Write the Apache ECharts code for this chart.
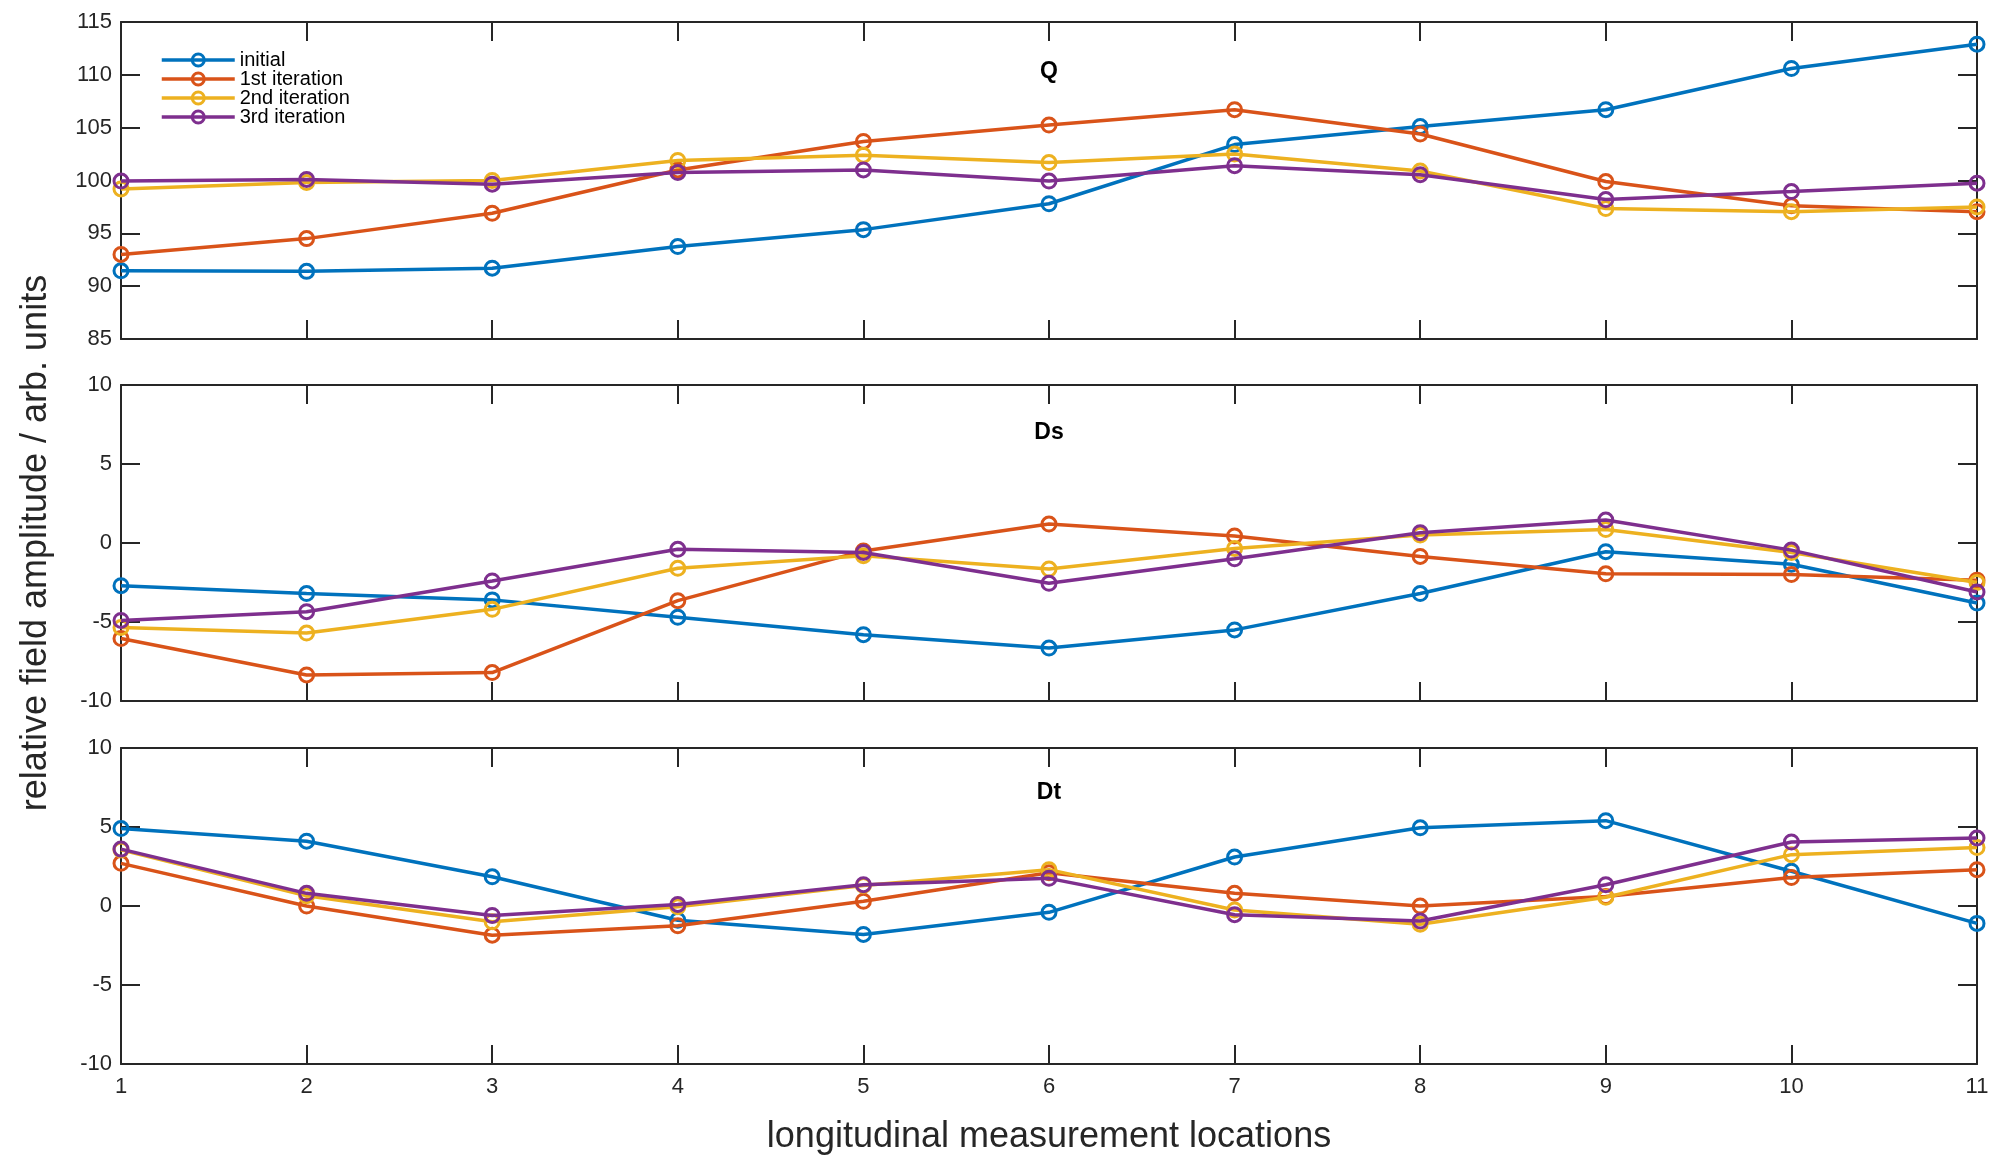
<!DOCTYPE html>
<html>
<head>
<meta charset="utf-8">
<title>Field amplitude iterations</title>
<script src="https://cdn.jsdelivr.net/npm/echarts@6/dist/echarts.min.js"></script>
<style>
  html, body { margin: 0; padding: 0; background: #ffffff; }
  #chart { width: 1997px; height: 1161px; }
</style>
</head>
<body>
<div id="chart"></div>
<script>
// Longitudinal measurement locations (shared x values)
const locations = [1, 2, 3, 4, 5, 6, 7, 8, 9, 10, 11];

// Series names
const seriesNames = ['initial', '1st iteration', '2nd iteration', '3rd iteration'];

// Panel titles
const panelTitles = ['Q', 'Ds', 'Dt'];

// Q component
const qInitial = [91.45, 91.4, 91.7, 93.75, 95.35, 97.8, 103.4, 105.1, 106.7, 110.6, 112.9];
const qIter1   = [93.0, 94.5, 96.9, 101.0, 103.7, 105.25, 106.7, 104.4, 99.9, 97.6, 97.05];
const qIter2   = [99.2, 99.8, 100.0, 101.9, 102.4, 101.7, 102.5, 100.9, 97.35, 97.05, 97.5];
const qIter3   = [99.95, 100.1, 99.65, 100.75, 101.0, 99.95, 101.4, 100.55, 98.2, 98.95, 99.75];

// Ds component
const dsInitial = [-2.7, -3.2, -3.6, -4.7, -5.8, -6.65, -5.5, -3.2, -0.55, -1.35, -3.8];
const dsIter1   = [-6.05, -8.35, -8.2, -3.65, -0.5, 1.2, 0.45, -0.85, -1.95, -2.0, -2.35];
const dsIter2   = [-5.35, -5.7, -4.2, -1.6, -0.8, -1.65, -0.35, 0.5, 0.85, -0.6, -2.5];
const dsIter3   = [-4.9, -4.35, -2.4, -0.4, -0.6, -2.55, -1.0, 0.65, 1.45, -0.45, -3.1];

// Dt component
const dtInitial = [4.9, 4.1, 1.85, -0.9, -1.8, -0.4, 3.1, 4.95, 5.4, 2.2, -1.1];
const dtIter1   = [2.7, 0.0, -1.85, -1.25, 0.3, 2.1, 0.8, 0.0, 0.6, 1.8, 2.3];
const dtIter2   = [3.55, 0.65, -1.0, -0.05, 1.3, 2.3, -0.25, -1.15, 0.55, 3.25, 3.7];
const dtIter3   = [3.6, 0.8, -0.6, 0.1, 1.35, 1.75, -0.55, -0.95, 1.35, 4.05, 4.3];

// Y-axis ranges per panel
const yRanges = [
  { min: 85, max: 115, interval: 5 },
  { min: -10, max: 10, interval: 5 },
  { min: -10, max: 10, interval: 5 }
];

const panelData = [
  [qInitial, qIter1, qIter2, qIter3],
  [dsInitial, dsIter1, dsIter2, dsIter3],
  [dtInitial, dtIter1, dtIter2, dtIter3]
];

const colors = ['#0072BD', '#D95319', '#EDB120', '#7E2F8E'];
const axisColor = '#262626';
const fontFamily = '"Liberation Sans", Arial, Helvetica, sans-serif';

const plotLeft = 121;
const plotWidth = 1856;
const gridTops = [22, 385, 748];
const gridHeights = [317, 316, 316];
const titleOffsets = [50, 48, 45];
const tickLen = 19;

const grids = gridTops.map((t, i) => ({
  left: plotLeft, top: t, width: plotWidth, height: gridHeights[i], containLabel: false
}));

const axisLineStyle = { color: axisColor, width: 2 };

const xAxes = [];
const yAxes = [];
for (let i = 0; i < 3; i++) {
  ['bottom', 'top'].forEach(pos => {
    xAxes.push({
      gridIndex: i, type: 'value', position: pos,
      min: 1, max: 11, interval: 1,
      axisLine: { show: true, onZero: false, lineStyle: axisLineStyle },
      axisTick: { show: true, inside: true, length: tickLen, lineStyle: axisLineStyle },
      axisLabel: {
        show: pos === 'bottom' && i === 2,
        color: axisColor, fontFamily: fontFamily, fontSize: 22, margin: 12
      },
      splitLine: { show: false }
    });
  });
  ['left', 'right'].forEach(pos => {
    yAxes.push({
      gridIndex: i, type: 'value', position: pos,
      min: yRanges[i].min, max: yRanges[i].max, interval: yRanges[i].interval,
      axisLine: { show: true, onZero: false, lineStyle: axisLineStyle },
      axisTick: { show: true, inside: true, length: tickLen, lineStyle: axisLineStyle },
      axisLabel: {
        show: pos === 'left',
        color: axisColor, fontFamily: fontFamily, fontSize: 22, margin: 9
      },
      splitLine: { show: false }
    });
  });
}

const series = [];
panelData.forEach((group, p) => {
  group.forEach((vals, s) => {
    series.push({
      name: seriesNames[s],
      type: 'line',
      xAxisIndex: p * 2,
      yAxisIndex: p * 2,
      data: locations.map((x, k) => [x, vals[k]]),
      clip: false,
      symbol: 'circle',
      symbolSize: 14,
      showAllSymbol: true,
      lineStyle: { color: colors[s], width: 3.5 },
      itemStyle: { color: 'rgba(255,255,255,0)', borderColor: colors[s], borderWidth: 3 },
      emphasis: { disabled: true },
      z: 2 + s
    });
  });
});

const graphics = [];
panelTitles.forEach((t, i) => {
  graphics.push({
    type: 'text',
    x: plotLeft + plotWidth / 2,
    y: gridTops[i] + titleOffsets[i],
    style: {
      text: t, fill: '#000000',
      font: 'bold 23px ' + fontFamily,
      textAlign: 'center', textVerticalAlign: 'middle'
    }
  });
});
graphics.push({
  type: 'text',
  x: plotLeft + plotWidth / 2,
  y: 1137,
  style: {
    text: 'longitudinal measurement locations', fill: axisColor,
    font: '36px ' + fontFamily,
    textAlign: 'center', textVerticalAlign: 'middle'
  }
});
graphics.push({
  type: 'text',
  x: 36,
  y: 543,
  rotation: Math.PI / 2,
  style: {
    text: 'relative field amplitude / arb. units', fill: axisColor,
    font: '36px ' + fontFamily,
    textAlign: 'center', textVerticalAlign: 'middle'
  }
});

const chart = echarts.init(document.getElementById('chart'), null, { renderer: 'canvas' });
chart.setOption({
  animation: false,
  backgroundColor: '#ffffff',
  grid: grids,
  xAxis: xAxes,
  yAxis: yAxes,
  legend: {
    data: seriesNames,
    orient: 'vertical',
    left: 155,
    top: 45,
    itemWidth: 73,
    itemHeight: 15,
    itemGap: -1,
    selectedMode: false,
    lineStyle: { width: 3.5 },
    itemStyle: { borderWidth: 3 },
    textStyle: { color: '#000000', fontFamily: fontFamily, fontSize: 20 }
  },
  series: series,
  graphic: graphics
});
</script>
</body>
</html>
